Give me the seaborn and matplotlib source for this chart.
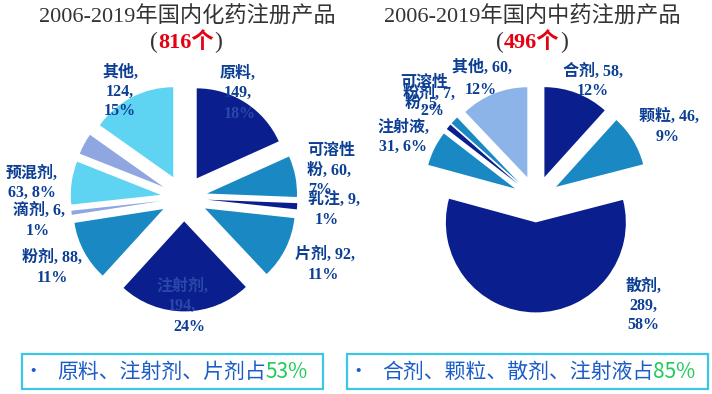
import numpy as np
import pandas as pd
import seaborn as sns
import matplotlib.pyplot as plt
from matplotlib.patches import Rectangle


# chemical drug registrations 2006-2019 (clockwise from 12 o'clock)
chem_names = ['原料', '可溶性粉', '乳注', '片剂', '注射剂', '粉剂', '滴剂', '预混剂', '未标注', '其他']
chem_counts = [149, 60, 9, 92, 194, 88, 6, 63, 31, 124]
chem_total = 816

# traditional chinese medicine registrations 2006-2019
tcm_names = ['合剂', '颗粒', '散剂', '注射液', '粉剂', '可溶性粉', '其他']
tcm_counts = [58, 46, 289, 31, 5, 7, 60]
tcm_total = 496

titles = ['2006-2019年国内化药注册产品', '2006-2019年国内中药注册产品']
notes = ['原料、注射剂、片剂占', '合剂、颗粒、散剂、注射液占']
note_pcts = ['53%', '85%']

NAVY = '#0b1e8e'
TEAL = '#1a88c2'
CYAN = '#5fd4f2'
LAV = '#8fa6e0'
SKY = '#8cb4e8'
chem_colors = sns.color_palette([NAVY, TEAL, NAVY, TEAL, NAVY, TEAL, LAV, CYAN, LAV, CYAN])
tcm_colors = sns.color_palette([NAVY, TEAL, NAVY, TEAL, NAVY, TEAL, SKY])

LABEL = '#0c3f94'
FAINT = '#2a48a8'
SERIF_CJK = ['Liberation Serif', 'Noto Sans CJK SC']

sns.set_theme(style='white')
plt.rcParams['font.family'] = ['Noto Sans CJK SC', 'DejaVu Sans']

W, H = 712, 394
fig = plt.figure(figsize=(W / 100, H / 100), dpi=100)
fig.patch.set_facecolor('white')


def fx(x):
    return x / W


def fy(y):
    return 1 - y / H


def draw_pie(values, colors, cx, cy, r=90, s=180, explode=0.26):
    ax = fig.add_axes([fx(cx - s), fy(cy + s), 2 * s / W, 2 * s / H])
    ax.pie(values, colors=colors, explode=[explode] * len(values), startangle=90,
           counterclock=False, radius=1, wedgeprops=dict(linewidth=0))
    ax.set_xlim(-s / r, s / r)
    ax.set_ylim(-s / r, s / r)
    ax.set_aspect('equal')
    ax.axis('off')
    return ax


def label(txt, x, y, ha='center', color=LABEL, size=11.5):
    fig.text(fx(x), fy(y), txt, ha=ha, va='center', color=color, fontsize=size,
             fontweight='bold', family=SERIF_CJK, linespacing=1.25)


draw_pie(chem_counts, chem_colors, 184, 198)
draw_pie(tcm_counts, tcm_colors, 536, 199)

# titles
for txt, x in zip(titles, [187, 532]):
    fig.text(fx(x), fy(17), txt, ha='center', va='center', fontsize=16,
             color='#333333', family=SERIF_CJK)
for total, x in zip([chem_total, tcm_total], [186, 532]):
    fig.text(fx(x), fy(43), f'{total}个', ha='center', va='center', fontsize=16,
             fontweight='bold', color='#e60012', family=SERIF_CJK)
    fig.text(fx(x - 32), fy(42), '(', ha='center', va='center', fontsize=17,
             color='#333333', family=SERIF_CJK)
    fig.text(fx(x + 32), fy(42), ')', ha='center', va='center', fontsize=17,
             color='#333333', family=SERIF_CJK)

# left pie labels
label('其他,\n124,\n15%', 120, 92)
label('原料,\n149,', 238, 83)
label('18%', 240, 114, color=FAINT)
label('可溶性\n粉, 60,', 307, 161, ha='left')
label('7%', 320, 190)
label('乳注, 9,', 308, 201, ha='left')
label('1%', 327, 220)
label('片剂, 92,', 295, 255, ha='left')
label('11%', 323, 275)
label('注射剂,\n194,', 182, 296, color=FAINT)
label('24%', 189, 327)
label('粉剂, 88,', 52, 258)
label('11%', 52, 278)
label('滴剂, 6,', 39, 211)
label('1%', 38, 231)
label('预混剂,\n63, 8%', 32, 183)

# right pie labels
label('合剂, 58,', 593, 72)
label('12%', 593, 91)
label('颗粒, 46,', 669, 117)
label('9%', 668, 137)
label('散剂,\n289,\n58%', 643, 306)
label('注射液,\n31, 6%', 403, 137)
label('其他, 60,', 482, 68)
label('12%', 481, 90)
label('可溶性', 424, 83)
label('粉剂, 7,', 403, 94, ha='left')
label('粉, 5,', 405, 104, ha='left')
label('2%', 432, 111)

# bottom note boxes
renderer = fig.canvas.get_renderer()
boxes = [(22, 323), (347, 708)]
for (x0, x1), note, pct in zip(boxes, notes, note_pcts):
    fig.add_artist(Rectangle((fx(x0), fy(389)), (x1 - x0) / W, 35 / H,
                             transform=fig.transFigure, fill=False,
                             edgecolor='#3cc6e6', linewidth=1.6))
    fig.text(fx(x0 + 11), fy(372), '•', ha='center', va='center', fontsize=14,
             color='#1a5cc8')
    t = fig.text(fx(x0 + 35), fy(372), note, ha='left', va='center', fontsize=15,
                 color='#1a5cc8')
    bb = t.get_window_extent(renderer=renderer)
    fig.text(bb.x1 / W, fy(372), pct, ha='left', va='center', fontsize=15,
             color='#1ecb5a')

fig.savefig('out.png', dpi=100, facecolor='white')
plt.close(fig)
